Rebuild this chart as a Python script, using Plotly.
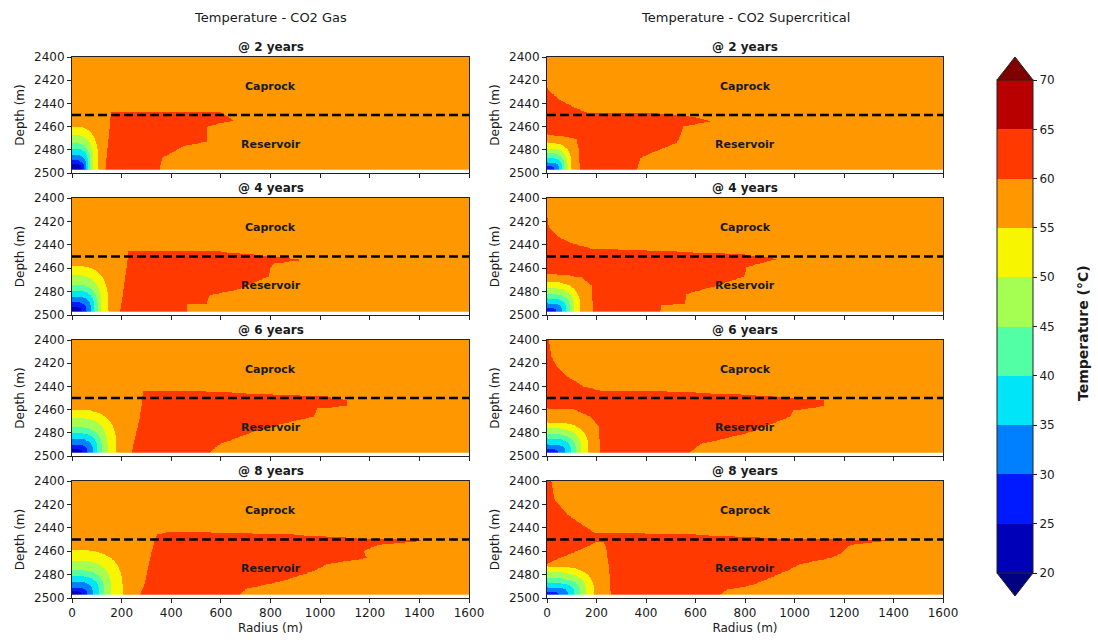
import numpy as np
import plotly.graph_objects as go
from plotly.subplots import make_subplots

W, H = 1098, 640

# ---------------- labels / ticks ----------------
column_titles = ["Temperature - CO2 Gas", "Temperature - CO2 Supercritical"]
years = [2, 4, 6, 8]
depth_ticks = [2400, 2420, 2440, 2460, 2480, 2500]
radius_ticks = [0, 200, 400, 600, 800, 1000, 1200, 1400, 1600]
level_ticks = [20, 25, 30, 35, 40, 45, 50, 55, 60, 65, 70]
band_colors = ["#0000b9", "#001aff", "#0080ff", "#00e5f7", "#52ffa5",
               "#a5ff52", "#f7f500", "#ff9700", "#ff3900", "#b90000"]
under_color = "#000080"
over_color = "#800000"

# band temperatures (degC) used to fill the zones
ambient_temp = 57      # 55-60 band
hot_temp = 62          # 60-65 band
cold_levels = [55, 50, 45, 40, 35, 30, 25]   # isotherms of the cold plume

# ---------------- CO2 gas : hot zone (depth, left radius, right radius) ----------------
gas2_hot_depth = [2448, 2452, 2455, 2457, 2460, 2473, 2477, 2483, 2487, 2497]
gas2_hot_left = [158, 156, 155, 154, 153, 147, 145, 142, 140, 136]
gas2_hot_right = [600, 635, 650, 600, 548, 545, 444, 397, 363, 352]
gas2_cold_top = [2460, 2467, 2474, 2479, 2484, 2489, 2492]
gas2_cold_width = [108, 88, 76, 68, 60, 52, 40]

gas4_hot_depth = [2446, 2448, 2450, 2453, 2456, 2460, 2467, 2478, 2483, 2490, 2491, 2497]
gas4_hot_left = [227, 226, 225, 224, 222, 220, 215, 208, 205, 200, 199, 194]
gas4_hot_right = [600, 705, 820, 933, 812, 800, 792, 678, 557, 544, 463, 460]
gas4_cold_top = [2458, 2466, 2474, 2479, 2484, 2489, 2493]
gas4_cold_width = [148, 120, 105, 92, 78, 60, 40]

gas6_hot_depth = [2444, 2446, 2449, 2452, 2457, 2459, 2466, 2474, 2479, 2490, 2497]
gas6_hot_left = [288, 286, 284, 282, 280, 278, 274, 266, 260, 248, 241]
gas6_hot_right = [490, 700, 1028, 1108, 1108, 987, 973, 812, 733, 597, 557]
gas6_cold_top = [2460, 2467, 2475, 2480, 2485, 2490, 2494]
gas6_cold_width = [180, 145, 122, 104, 86, 64, 42]

gas8_hot_depth = [2444, 2446, 2449, 2450.5, 2455, 2460, 2466, 2471, 2477, 2486, 2492, 2497]
gas8_hot_left = [380, 342, 335, 332, 328, 321, 315, 310, 303, 295, 285, 274]
gas8_hot_right = [560, 893, 1150, 1430, 1229, 1175, 1190, 1027, 974, 839, 705, 678]
gas8_cold_top = [2459, 2468, 2476, 2481, 2486, 2491, 2494]
gas8_cold_width = [205, 160, 132, 110, 85, 62, 40]

# ---------------- CO2 supercritical : hot zone from r=0, plus 55-60 halo ----------------
sc2_hot_depth = [2427, 2437, 2443, 2448, 2449, 2452, 2455.5, 2460, 2469, 2474, 2480, 2487, 2497]
sc2_hot_right = [0, 52, 106, 160, 450, 600, 658, 551, 537, 525, 456, 376, 362]
sc2_halo_depth = [2467, 2468, 2471, 2480, 2497]
sc2_halo_left = [0, 0, 0, 0, 0]
sc2_halo_right = [0, 60, 120, 130, 133]
sc2_cold_top = [2474, 2479, 2483, 2487, 2491, 2494, 2497]
sc2_cold_width = [100, 85, 72, 62, 50, 32, 0]

sc4_hot_depth = [2417, 2426, 2434, 2439, 2443, 2445, 2448, 2452, 2459, 2467, 2475, 2482, 2490, 2492, 2497]
sc4_hot_right = [0, 12, 52, 106, 174, 400, 780, 934, 807, 794, 686, 564, 558, 463, 459]
sc4_halo_depth = [2465, 2466, 2468, 2475, 2497]
sc4_halo_left = [0, 0, 0, 0, 0]
sc4_halo_right = [0, 80, 140, 180, 187]
sc4_cold_top = [2472, 2477, 2482, 2486, 2490, 2494, 2497]
sc4_cold_width = [135, 112, 95, 80, 62, 38, 0]

sc6_hot_depth = [2400, 2414, 2422, 2431, 2440, 2443.5, 2444.5, 2447, 2452, 2457, 2461, 2466, 2479, 2490, 2497]
sc6_hot_right = [10, 19, 39, 80, 147, 214, 484, 780, 1116, 1116, 995, 982, 834, 618, 578]
sc6_halo_depth = [2459, 2460, 2466, 2475, 2497]
sc6_halo_left = [0, 0, 0, 0, 0]
sc6_halo_right = [0, 110, 174, 210, 214]
sc6_cold_top = [2471, 2476, 2481, 2485, 2490, 2494, 2497]
sc6_cold_width = [168, 140, 118, 98, 76, 45, 0]

sc8_hot_depth = [2400, 2416, 2428, 2436, 2444, 2446, 2449, 2450.5, 2455, 2462, 2466, 2471, 2477, 2489, 2493, 2497]
sc8_hot_right = [19, 32, 80, 133, 190, 600, 914, 1386, 1224, 1184, 1144, 1022, 968, 833, 726, 699]
sc8_halo_depth = [2452, 2455, 2460, 2466, 2471, 2480, 2497]
sc8_halo_left = [200, 174, 120, 52, 0, 0, 0]
sc8_halo_right = [228, 235, 241, 244, 248, 252, 257]
sc8_cold_top = [2473, 2478, 2483, 2487, 2491, 2495, 2497]
sc8_cold_width = [190, 160, 135, 112, 86, 50, 0]

# ---------------- field construction ----------------
r_grid = np.arange(0, 1601, 4.0)
d_grid = np.arange(2400, 2497.01, 0.5)
R, D = np.meshgrid(r_grid, d_grid)
D_BOTTOM = 2497.0
DOME_EXP = 3.0


def band_mask(depths, left, right):
    depths = np.asarray(depths, float)
    lo = np.interp(d_grid, depths, np.asarray(left, float))
    hi = np.interp(d_grid, depths, np.asarray(right, float))
    rows = (d_grid >= depths[0]) & (d_grid <= depths[-1])
    return (R >= lo[:, None]) & (R <= hi[:, None]) & rows[:, None]


def dome_mask(top, width):
    if width <= 0 or top >= D_BOTTOM:
        return np.zeros_like(R, dtype=bool)
    u = (R / width) ** DOME_EXP + (np.clip(D_BOTTOM - D, 0, None) / (D_BOTTOM - top)) ** DOME_EXP
    return u <= 1.0


def build_field(hot_depth, hot_left, hot_right, cold_top, cold_width,
                halo_depth=None, halo_left=None, halo_right=None):
    z = np.full(R.shape, ambient_temp, dtype=np.uint8)
    z[band_mask(hot_depth, hot_left, hot_right)] = hot_temp
    if halo_depth is not None:
        z[band_mask(halo_depth, halo_left, halo_right)] = ambient_temp
    for lev, top, w in zip(cold_levels, cold_top, cold_width):
        z[dome_mask(top, w)] = lev - 3
    return z


gas_fields = [
    build_field(gas2_hot_depth, gas2_hot_left, gas2_hot_right, gas2_cold_top, gas2_cold_width),
    build_field(gas4_hot_depth, gas4_hot_left, gas4_hot_right, gas4_cold_top, gas4_cold_width),
    build_field(gas6_hot_depth, gas6_hot_left, gas6_hot_right, gas6_cold_top, gas6_cold_width),
    build_field(gas8_hot_depth, gas8_hot_left, gas8_hot_right, gas8_cold_top, gas8_cold_width),
]
sc_fields = [
    build_field(sc2_hot_depth, [0] * len(sc2_hot_depth), sc2_hot_right, sc2_cold_top, sc2_cold_width,
                sc2_halo_depth, sc2_halo_left, sc2_halo_right),
    build_field(sc4_hot_depth, [0] * len(sc4_hot_depth), sc4_hot_right, sc4_cold_top, sc4_cold_width,
                sc4_halo_depth, sc4_halo_left, sc4_halo_right),
    build_field(sc6_hot_depth, [0] * len(sc6_hot_depth), sc6_hot_right, sc6_cold_top, sc6_cold_width,
                sc6_halo_depth, sc6_halo_left, sc6_halo_right),
    build_field(sc8_hot_depth, [0] * len(sc8_hot_depth), sc8_hot_right, sc8_cold_top, sc8_cold_width,
                sc8_halo_depth, sc8_halo_left, sc8_halo_right),
]

# stepwise colorscale over 20..70
zmin, zmax = level_ticks[0], level_ticks[-1]
nb = len(band_colors)
colorscale = []
for i, c in enumerate(band_colors):
    colorscale.append([i / nb, c])
    colorscale.append([(i + 1) / nb, c])

# ---------------- layout geometry (pixels) ----------------
col_px = [(72, 469), (547, 943)]
row_px = [(57, 173), (198, 315), (340, 456), (481, 598)]
FONT = "DejaVu Sans"
TXT = "#1a1a1a"

fig = make_subplots(rows=4, cols=2, horizontal_spacing=0.05, vertical_spacing=0.03)

cb_x0, cb_x1 = 997, 1033
cb_top, cb_bot = 80, 573
tri_h = 23

for ci, fields in enumerate([gas_fields, sc_fields]):
    for ri, z in enumerate(fields):
        show = (ci == 0 and ri == 0)
        fig.add_trace(go.Heatmap(
            x=r_grid, y=d_grid, z=z, zmin=zmin, zmax=zmax, colorscale=colorscale,
            zsmooth=False, hoverinfo="skip", showscale=show,
            colorbar=dict(
                tickvals=level_ticks, ticks="outside", ticklen=4, tickwidth=1, tickcolor="#222",
                tickfont=dict(family=FONT, size=12, color=TXT),
                thickness=cb_x1 - cb_x0, thicknessmode="pixels",
                len=cb_bot - cb_top, lenmode="pixels",
                x=cb_x0 / W, xanchor="left", y=1 - (cb_top + cb_bot) / 2 / H, yanchor="middle",
                xpad=0, ypad=0, outlinewidth=1, outlinecolor="#222",
            ) if show else None,
        ), row=ri + 1, col=ci + 1)

        x0, x1 = col_px[ci]
        y0, y1 = row_px[ri]
        fig.update_xaxes(
            domain=[x0 / W, x1 / W], range=[0, 1600], tickvals=radius_ticks,
            showticklabels=(ri == 3), ticks="outside", ticklen=4, tickcolor="#222",
            showline=True, linecolor="#222", linewidth=1, mirror=True,
            showgrid=False, zeroline=False, automargin=False,
            tickfont=dict(family=FONT, size=12, color=TXT),
            title=dict(text="Radius (m)" if ri == 3 else "", font=dict(family=FONT, size=12, color=TXT), standoff=4),
            row=ri + 1, col=ci + 1)
        fig.update_yaxes(
            domain=[1 - y1 / H, 1 - y0 / H], range=[2500, 2400], tickvals=depth_ticks,
            ticks="outside", ticklen=4, tickcolor="#222",
            showline=True, linecolor="#222", linewidth=1, mirror=True,
            showgrid=False, zeroline=False, automargin=False,
            tickfont=dict(family=FONT, size=12, color=TXT),
            title=dict(text="Depth (m)", font=dict(family=FONT, size=12, color=TXT), standoff=6),
            row=ri + 1, col=ci + 1)

        idx = ri * 2 + ci + 1
        xr = "x" if idx == 1 else f"x{idx}"
        yr = "y" if idx == 1 else f"y{idx}"
        # caprock / reservoir interface
        fig.add_shape(type="line", xref=xr, yref=yr, x0=0, x1=1600, y0=2450, y1=2450,
                      line=dict(color="black", width=2.5, dash="9px,4px"))
        fig.add_annotation(xref=xr, yref=yr, x=800, y=2425, text="<b>Caprock</b>", showarrow=False,
                           xanchor="center", font=dict(family=FONT, size=11, color=TXT))
        fig.add_annotation(xref=xr, yref=yr, x=800, y=2475, text="<b>Reservoir</b>", showarrow=False,
                           xanchor="center", font=dict(family=FONT, size=11, color=TXT))
        # panel title
        fig.add_annotation(xref="paper", yref="paper", x=(x0 + x1) / 2 / W, y=1 - (y0 - 1) / H,
                           xanchor="center", yanchor="bottom", text=f"<b>@ {years[ri]} years</b>",
                           showarrow=False, font=dict(family=FONT, size=12, color=TXT))

# column titles
for ci, t in enumerate(column_titles):
    x0, x1 = col_px[ci]
    fig.add_annotation(xref="paper", yref="paper", x=(x0 + x1) / 2 / W, y=1 - 17 / H,
                       text=t, showarrow=False, xanchor="center", yanchor="middle",
                       font=dict(family=FONT, size=13, color=TXT))

# colorbar extension triangles
xm = (cb_x0 + cb_x1) / 2


def px_path(pts):
    return "M " + " L ".join(f"{x / W},{1 - y / H}" for x, y in pts) + " Z"


fig.add_shape(type="path", xref="paper", yref="paper",
              path=px_path([(cb_x0, cb_top), (cb_x1, cb_top), (xm, cb_top - tri_h)]),
              fillcolor=over_color, line=dict(color="#222", width=1))
fig.add_shape(type="path", xref="paper", yref="paper",
              path=px_path([(cb_x0, cb_bot), (cb_x1, cb_bot), (xm, cb_bot + tri_h)]),
              fillcolor=under_color, line=dict(color="#222", width=1))

fig.add_annotation(xref="paper", yref="paper", x=1083 / W, y=1 - 333 / H, text="<b>Temperature (°C)</b>",
                   textangle=-90, showarrow=False, xanchor="center", yanchor="middle",
                   font=dict(family=FONT, size=14, color=TXT))

fig.update_layout(width=W, height=H, margin=dict(l=0, r=0, t=0, b=0, autoexpand=False),
                  paper_bgcolor="white", plot_bgcolor="white", showlegend=False)

fig.write_html("out.html")
